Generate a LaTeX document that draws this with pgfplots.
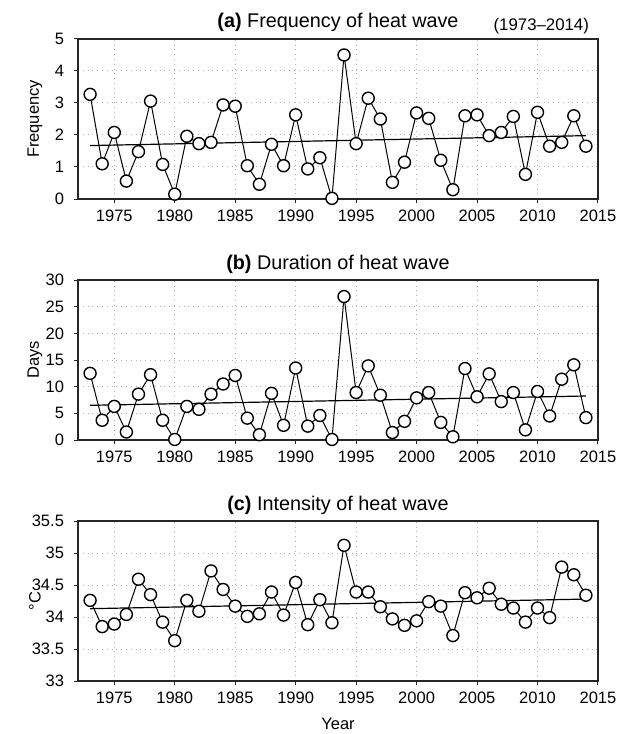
\documentclass[border=0pt]{standalone}
\usepackage{pgfplots}
\pgfplotsset{compat=1.18}
\usepackage{fontspec}
\setmainfont{Liberation Sans}

\pgfplotsset{
  hw/.style={
    scale only axis, width=260pt, height=80pt,
    xmin=1972, xmax=2015, xtick={1975,1980,...,2015},
    tick align=outside, major tick length=2pt,
    xtick pos=bottom, ytick pos=left,
    grid=major, major grid style={dotted, gray!60, line width=0.5pt},
    tick label style={font=\fontsize{8.25}{9.9}\selectfont},
    /pgf/number format/assume math mode=true,
    /pgf/number format/1000 sep={},
    axis line style={line width=0.6pt, black!85},
    every tick/.style={black!85, line width=0.5pt},
    yticklabel style={xshift=-1.5pt},
    every axis y label/.style={at={(axis description cs:0,0.5)}, xshift=-21.5pt,
      rotate=90, anchor=center, font=\fontsize{8.25}{9.9}\selectfont},
    clip=false,
  },
  ser/.style={black, line width=0.5pt, mark=*, mark size=3pt,
    mark options={fill=white, draw=black, line width=0.7pt}},
  trend/.style={black, line width=0.6pt, no marks},
}
\newcommand{\ttl}[1]{\node[anchor=base, font=\fontsize{9.9}{11.9}\selectfont] at (rel axis cs:0.5,1) [yshift=5.5pt] {#1};}

\begin{document}
\begin{tikzpicture}
% (a) frequency
\begin{axis}[hw, name=a, at={(0,0)}, anchor=south west,
  ymin=0, ymax=5, ytick={0,1,...,5}, ylabel={Frequency}]
\addplot[trend] coordinates {(1973,1.67) (2014,1.98)};
\addplot[ser] coordinates {
(1973,3.27) (1974,1.10) (1975,2.08) (1976,0.56) (1977,1.48) (1978,3.06) (1979,1.08)
(1980,0.15) (1981,1.96) (1982,1.73) (1983,1.77) (1984,2.94) (1985,2.90) (1986,1.04)
(1987,0.46) (1988,1.71) (1989,1.04) (1990,2.63) (1991,0.94) (1992,1.29) (1993,0.02)
(1994,4.50) (1995,1.73) (1996,3.15) (1997,2.50) (1998,0.52) (1999,1.15) (2000,2.69)
(2001,2.52) (2002,1.21) (2003,0.29) (2004,2.60) (2005,2.63) (2006,1.98) (2007,2.08)
(2008,2.58) (2009,0.77) (2010,2.71) (2011,1.65) (2012,1.77) (2013,2.60) (2014,1.65)};
\ttl{\textbf{(a)} Frequency of heat wave}
\node[anchor=base east, font=\fontsize{8.4}{10}\selectfont] at (rel axis cs:1,1) [xshift=-1pt, yshift=4pt] {(1973--2014)};
\end{axis}

% (b) duration
\begin{axis}[hw, name=b, at={(0,-120.5pt)}, anchor=south west,
  ymin=0, ymax=30, ytick={0,5,...,30}, ylabel={Days}]
\addplot[trend] coordinates {(1973,6.5) (2014,8.25)};
\addplot[ser] coordinates {
(1973,12.5) (1974,3.7) (1975,6.3) (1976,1.5) (1977,8.6) (1978,12.25) (1979,3.7)
(1980,0.1) (1981,6.3) (1982,5.75) (1983,8.6) (1984,10.5) (1985,12.1) (1986,4.1)
(1987,1.0) (1988,8.75) (1989,2.75) (1990,13.5) (1991,2.6) (1992,4.6) (1993,0.1)
(1994,26.9) (1995,8.9) (1996,13.9) (1997,8.4) (1998,1.4) (1999,3.5) (2000,7.9)
(2001,8.9) (2002,3.3) (2003,0.6) (2004,13.4) (2005,8.1) (2006,12.4) (2007,7.2)
(2008,8.9) (2009,1.9) (2010,9.1) (2011,4.5) (2012,11.4) (2013,14.1) (2014,4.2)};
\ttl{\textbf{(b)} Duration of heat wave}
\end{axis}

% (c) intensity
\begin{axis}[hw, name=c, at={(0,-241pt)}, anchor=south west,
  ymin=33, ymax=35.5, ytick={33,33.5,...,35.5}, ylabel={°C},
  xlabel={Year}, xlabel style={at={(axis description cs:0.5,0)}, anchor=base,
    yshift=-24pt, font=\fontsize{8.25}{9.9}\selectfont}]
\addplot[trend] coordinates {(1973,34.13) (2014,34.28)};
\addplot[ser] coordinates {
(1973,34.26) (1974,33.85) (1975,33.89) (1976,34.04) (1977,34.59) (1978,34.35) (1979,33.92)
(1980,33.63) (1981,34.26) (1982,34.09) (1983,34.72) (1984,34.43) (1985,34.17) (1986,34.01)
(1987,34.05) (1988,34.39) (1989,34.03) (1990,34.54) (1991,33.88) (1992,34.27) (1993,33.91)
(1994,35.12) (1995,34.39) (1996,34.39) (1997,34.16) (1998,33.97) (1999,33.87) (2000,33.94)
(2001,34.24) (2002,34.17) (2003,33.71) (2004,34.38) (2005,34.30) (2006,34.45) (2007,34.20)
(2008,34.14) (2009,33.92) (2010,34.14) (2011,33.99) (2012,34.78) (2013,34.66) (2014,34.34)};
\ttl{\textbf{(c)} Intensity of heat wave}
\end{axis}

\pgfresetboundingbox
\path (a.south west) ++(-39pt,99.5pt) rectangle ++(312.5pt,-367pt);
\end{tikzpicture}
\end{document}
